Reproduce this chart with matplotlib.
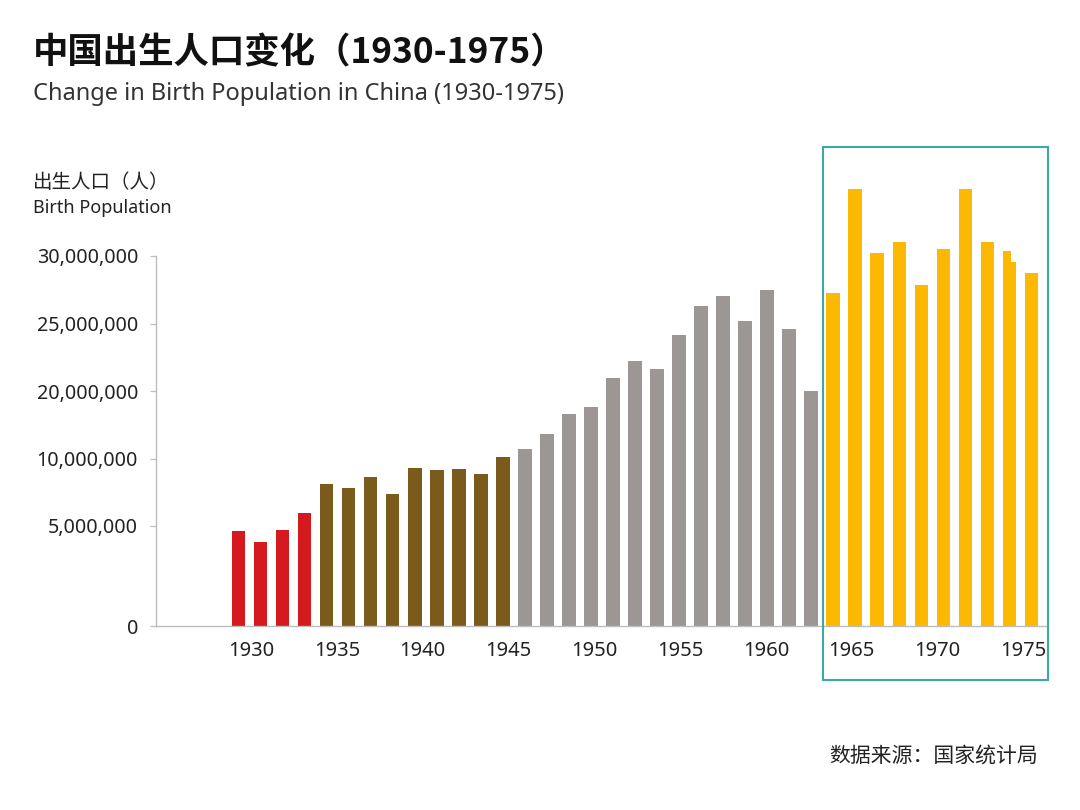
import numpy as np
import matplotlib
matplotlib.use("Agg")
import matplotlib.pyplot as plt
from matplotlib.patches import Rectangle

plt.rcParams['font.family'] = ['Noto Sans', 'Noto Sans CJK SC', 'DejaVu Sans']

# ---------------- data ----------------
red_vals = [4.75e6, 4.19e6, 4.79e6, 5.99e6]
brown_vals = [8.10e6, 7.85e6, 8.66e6, 7.36e6, 9.33e6, 9.14e6, 9.21e6, 8.84e6, 10.2e6]
gray_vals = [11.39e6, 13.69e6, 16.6e6, 17.68e6, 20.95e6, 22.26e6, 21.64e6, 24.2e6,
             26.3e6, 27.05e6, 25.24e6, 27.5e6, 24.65e6, 20.0e6]
yellow_vals = [27.24e6, 34.85e6, 30.18e6, 31.0e6, 27.86e6, 30.48e6, 34.85e6, 31.0e6,
               29.55e6, 28.71e6]
notch_val = 30.33e6          # small overlapping sliver on the 9th yellow bar
tick_years = [1930, 1935, 1940, 1945, 1950, 1955, 1960, 1965, 1970, 1975]
ytick_vals = [0, 5e6, 10e6, 20e6, 25e6, 30e6]
ytick_labels = ['0', '5,000,000', '10,000,000', '20,000,000', '25,000,000', '30,000,000']

colors = {'red': '#d51a1f', 'brown': '#7b5b1c', 'gray': '#9c9794', 'yellow': '#fdb902'}

# ---------------- scale (the original's uneven value axis) ----------------
scale_vals = np.array([0, 5e6, 10e6, 20e6, 25e6, 30e6, 40e6])
scale_pos = np.array([0, 100, 167.3, 235, 302, 370.3, 506.9])

def fwd(v):
    return np.interp(v, scale_vals, scale_pos)

def inv(p):
    return np.interp(p, scale_pos, scale_vals)

W, H = 1080, 810
fig = plt.figure(figsize=(W / 100, H / 100), dpi=100)
fig.patch.set_facecolor('white')

ax_left, ax_right, ax_bottom, ax_top = 156, 1047.7, 626, 186
ax = fig.add_axes([ax_left / W, 1 - ax_bottom / H, (ax_right - ax_left) / W, (ax_bottom - ax_top) / H])
ax.set_yscale('function', functions=(fwd, inv))

groups = [(red_vals, colors['red']), (brown_vals, colors['brown']),
          (gray_vals, colors['gray']), (yellow_vals, colors['yellow'])]
bar_w = 0.62
idx = 0
for vals, c in groups:
    x = np.arange(idx, idx + len(vals))
    ax.bar(x, vals, width=bar_w, color=c, linewidth=0)
    idx += len(vals)

# sliver on the 9th yellow bar
n_before_yellow = len(red_vals) + len(brown_vals) + len(gray_vals)
notch_x = n_before_yellow + 8
ax.bar(notch_x - bar_w / 2, notch_val, width=bar_w * 0.6, align='edge',
       color=colors['yellow'], linewidth=0)

ax.set_xlim(-3.743, 36.734)
ax.set_ylim(0, inv(ax_bottom - ax_top))

# year ticks: year -> bar index position
tick_pos = [18.10 + 0.7790 * (y - 1952.5) for y in tick_years]
ax.set_xticks(tick_pos)
ax.set_xticklabels([str(y) for y in tick_years], fontsize=14.5, color='#222222')
ax.tick_params(axis='x', length=0, pad=11)

ax.set_yticks(ytick_vals)
ax.set_yticklabels(ytick_labels, fontsize=14.2, color='#222222')
ax.tick_params(axis='y', length=4, width=0.9, color='#bfbfbf', pad=9)
ax.yaxis.set_minor_locator(matplotlib.ticker.NullLocator())

for s in ['top', 'right']:
    ax.spines[s].set_visible(False)
for s in ['left', 'bottom']:
    ax.spines[s].set_color('#bdbdbd')
    ax.spines[s].set_linewidth(1.0)
ax.spines['left'].set_bounds(0, 30e6)
ax.patch.set_alpha(0)

# highlight box
box = Rectangle((823.3 / W, 1 - 680 / H), (1047.7 - 823.3) / W, (680 - 147.3) / H,
                transform=fig.transFigure, fill=False, edgecolor='#3da9a6', linewidth=1.5)
fig.add_artist(box)

# ---------------- texts ----------------
cjk = ['Noto Sans CJK SC', 'DejaVu Sans']
fig.text(33 / W, 1 - 63 / H, '中国出生人口变化（1930-1975）', fontsize=25.5, fontweight='bold',
         family=cjk, color='#111111', va='baseline', ha='left')
fig.text(33 / W, 1 - 100 / H, 'Change in Birth Population in China (1930-1975)', fontsize=17,
         color='#333333', va='baseline', ha='left')
fig.text(33 / W, 1 - 188 / H, '出生人口（人）', fontsize=14, family=cjk,
         color='#222222', va='baseline', ha='left')
fig.text(33 / W, 1 - 213 / H, 'Birth Population', fontsize=13,
         color='#222222', va='baseline', ha='left')
fig.text(1038 / W, 1 - 762 / H, '数据来源：国家统计局', fontsize=15, family=cjk,
         color='#222222', va='baseline', ha='right')

fig.savefig('out.png', dpi=100, facecolor='white')
